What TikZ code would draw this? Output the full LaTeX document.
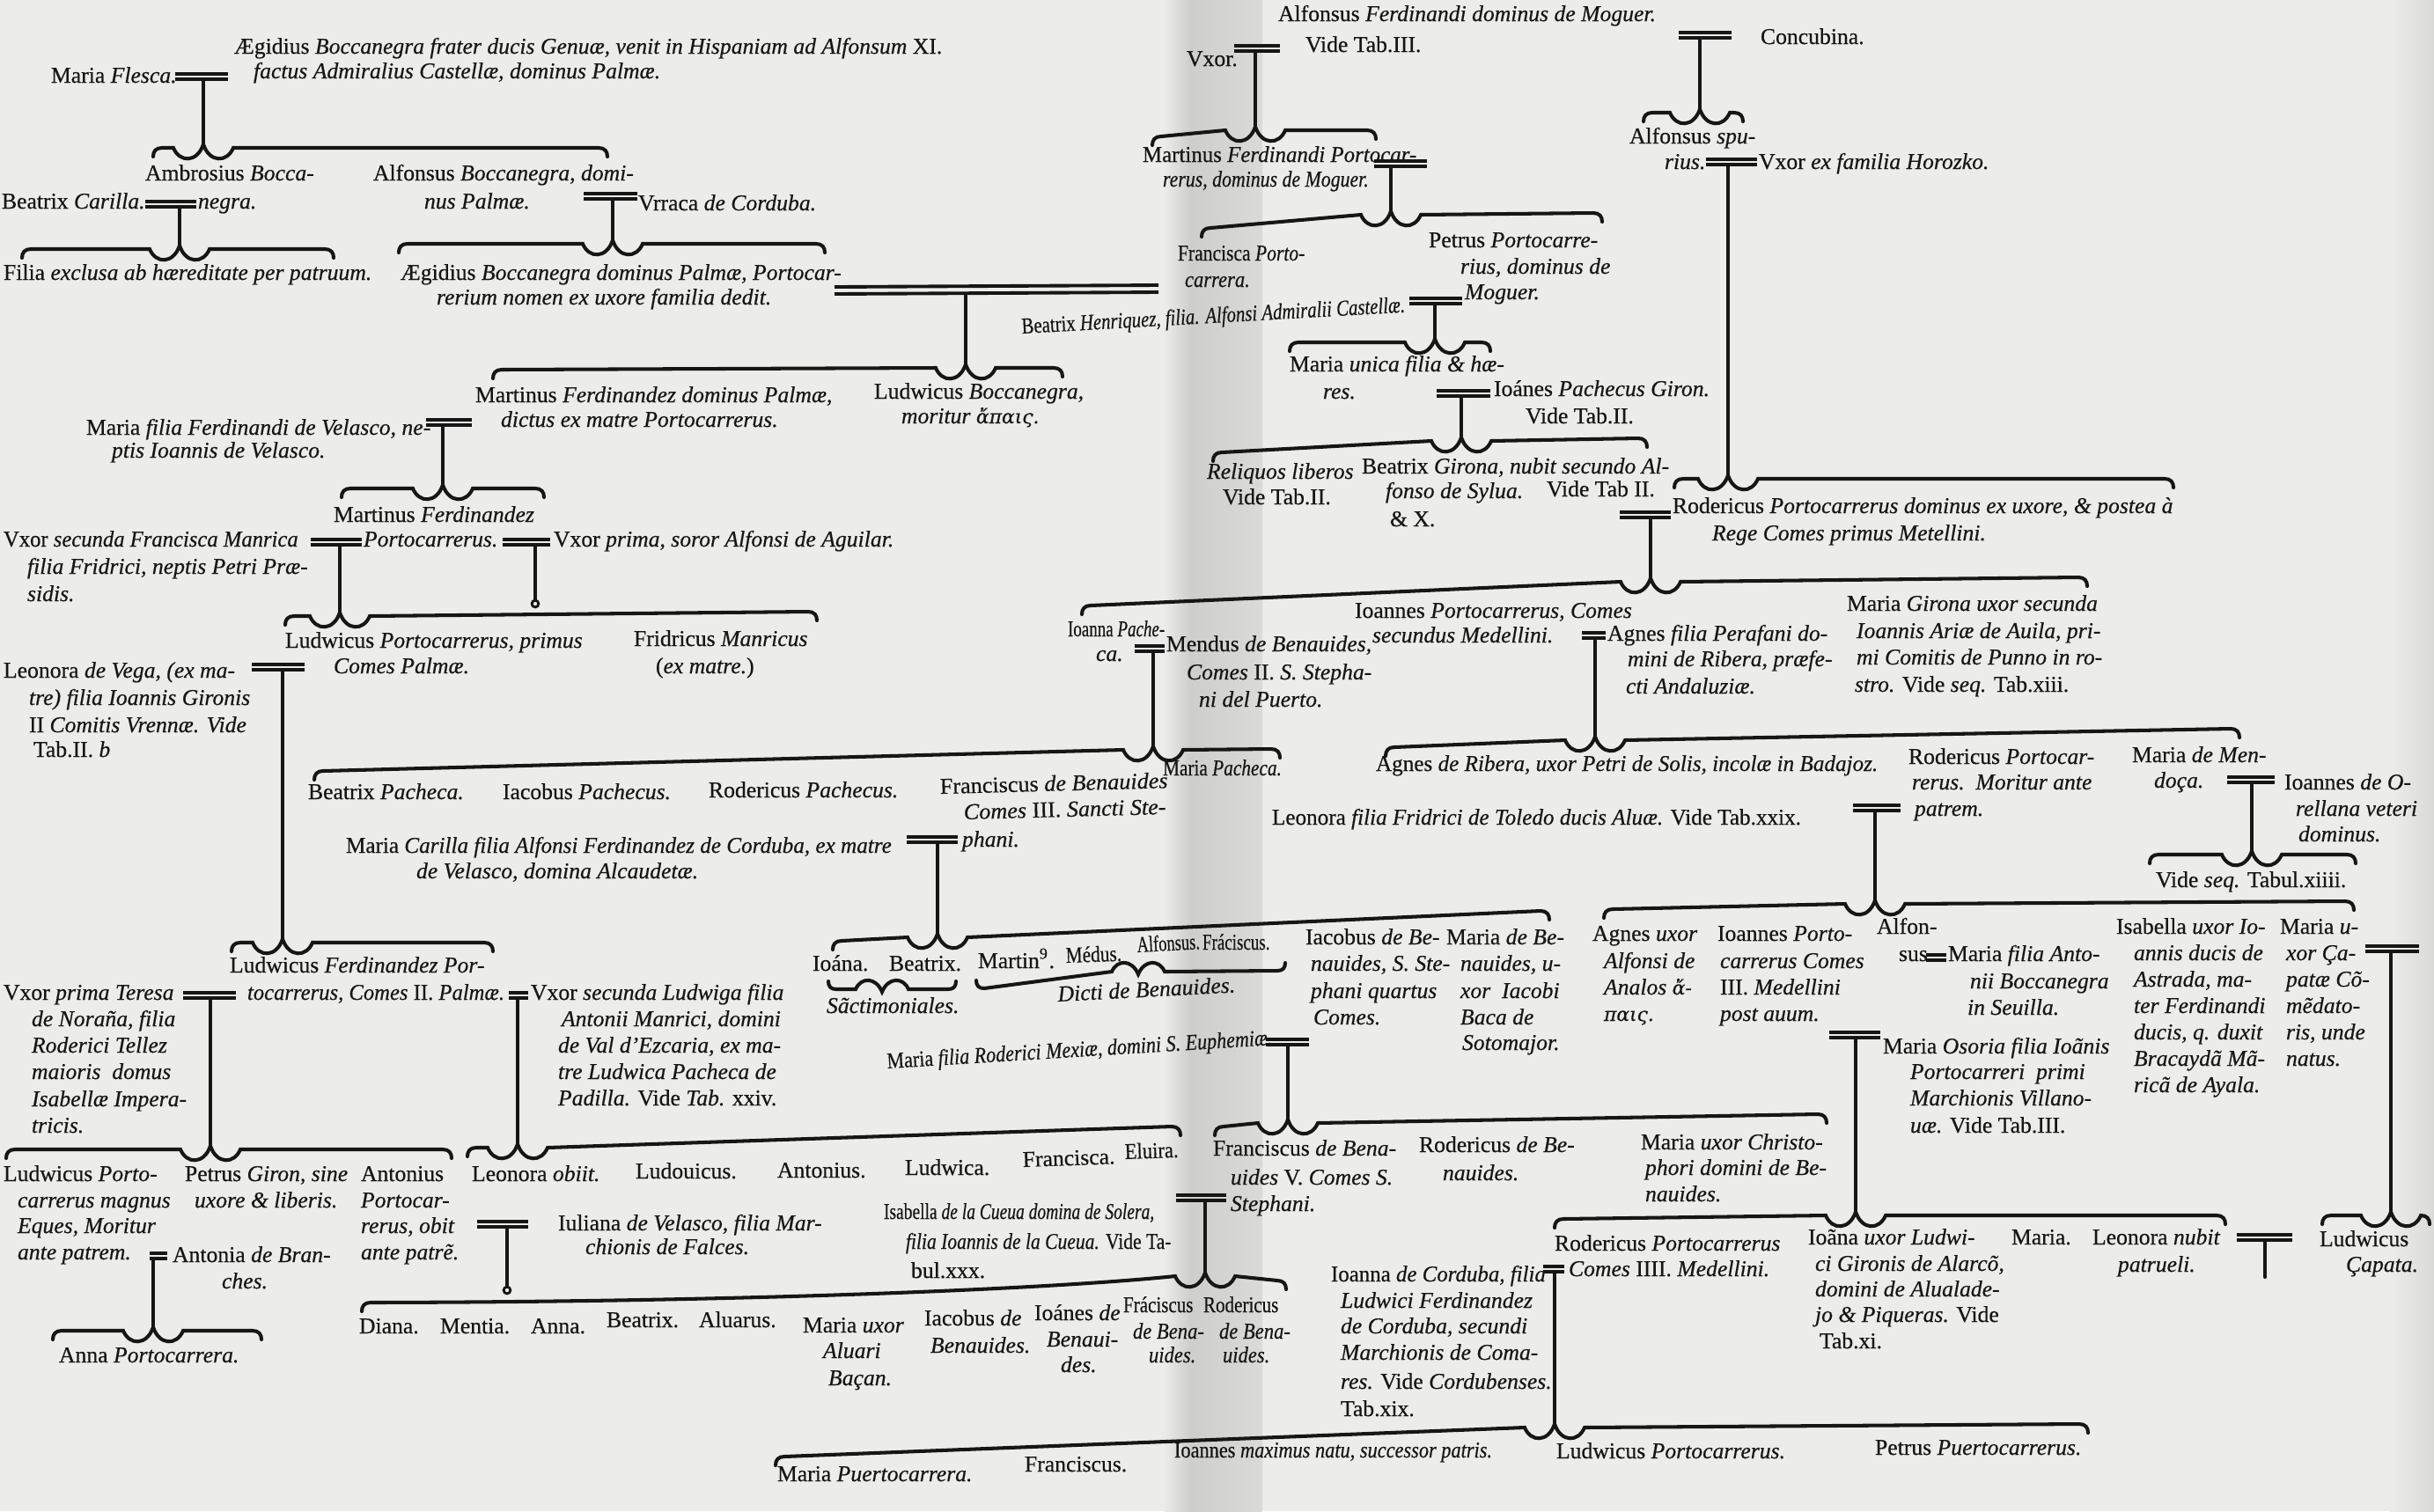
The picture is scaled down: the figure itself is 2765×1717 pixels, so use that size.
\documentclass[tikz,border=0pt]{standalone}
\usepackage{graphicx}
\usepackage{fontspec}
\setmainfont{Liberation Serif}[FakeBold=0.5]
\newfontfamily\grk{DejaVu Serif}[Scale=0.85,FakeBold=0.4]
\definecolor{paper}{RGB}{236,236,234}
\definecolor{gutd}{RGB}{206,206,204}
\definecolor{gutm}{RGB}{218,218,216}
\definecolor{ink}{RGB}{22,22,22}
\newcounter{tn}
\newcommand\ix[1]{\textit{#1}}
\newcommand\sx[2]{\scalebox{#1}[1]{#2}}
\newcommand\fsz{\fontsize{7.3pt}{8.7pt}\selectfont}
\newcommand\tx[4][]{\stepcounter{tn}\node[tl,#1] (t\arabic{tn}) at (#2,#3) {#4};}
\newcommand\mar[3]{\draw[mr] ({#1},{#3-3.3}) -- ({#2},{#3-3.3}); \draw[mr] ({#1},{#3+3.3}) -- ({#2},{#3+3.3});}
\newcommand\dsc[3]{\draw[br] ({#1},{#2}) -- ({#1},{#3});}
\newcommand\nring[2]{\draw[br,line width=0.8pt] ({#1},{#2}) circle[radius=1.1pt];}
% over-brace: x1 y1 xc yc x2 y2
\newcommand\obr[6]{\draw[br] ({#1},{#2+10}) .. controls ({#1},{#2+4}) and ({#1+3},{#2}) .. ({#1+10},{#2})
  -- ({#3-34},{#4}) .. controls ({#3-27},{#4+17}) and ({#3-7},{#4+17}) .. ({#3},{#4-4})
  .. controls ({#3+7},{#4+17}) and ({#3+27},{#4+17}) .. ({#3+34},{#4})
  -- ({#5-10},{#6}) .. controls ({#5-3},{#6}) and ({#5},{#6+4}) .. ({#5},{#6+10});}
% under-brace: x1 y1 xc yc x2 y2
\newcommand\ubr[6]{\draw[br] ({#1},{#2-9}) .. controls ({#1},{#2-3}) and ({#1+3},{#2}) .. ({#1+9},{#2})
  -- ({#3-30},{#4}) .. controls ({#3-24},{#4-14}) and ({#3-7},{#4-14}) .. ({#3},{#4+3})
  .. controls ({#3+7},{#4-14}) and ({#3+24},{#4-14}) .. ({#3+30},{#4})
  -- ({#5-9},{#6}) .. controls ({#5-3},{#6}) and ({#5},{#6-3}) .. ({#5},{#6-9});}
\tikzset{
  tl/.style={anchor=base west, inner sep=0pt, outer sep=0pt, font=\fsz, text=ink},
  br/.style={draw=ink, line width=1.15pt, line cap=round},
  mr/.style={draw=ink, line width=1.1pt},
}
\begin{document}
\begin{tikzpicture}[x=0.01cm,y=-0.01cm]
\useasboundingbox (0,0) rectangle (2765,1717);
\fill[paper] (0,0) rectangle (2765,1717);
\shade[left color=paper,right color=gutd] (1322,0) rectangle (1352,1717);
\shade[left color=gutd,right color=gutm] (1352,0) rectangle (1434,1717);
\shade[left color=paper,right color=gutm] (2715,0) rectangle (2765,1717);

% ================= LEFT PAGE =================
\tx{266}{61}{Ægidius \ix{Boccanegra frater ducis Genuæ, venit in Hispaniam ad Alfonsum} XI.}
\tx{288}{89}{\ix{factus Admiralius Castellæ, dominus Palmæ.}}
\tx{58}{94}{Maria \ix{Flesca.}}
\mar{199}{259}{87}
\dsc{231}{92}{164}
\obr{174}{168}{231}{168}{690}{168}
\tx{165}{205}{Ambrosius \ix{Bocca-}}
\tx{225}{237}{\ix{negra.}}
\tx{2}{237}{Beatrix \ix{Carilla.}}
\mar{165}{223}{232}
\dsc{204}{237}{279}
\obr{25}{283}{204}{283}{379}{283}
\tx{4}{318}{Filia \ix{exclusa ab hæreditate per patruum.}}
\tx{424}{205}{Alfonsus \ix{Boccanegra, domi-}}
\tx{482}{237}{\ix{nus Palmæ.}}
\tx{725}{239}{Vrraca \ix{de Corduba.}}
\mar{663}{724}{223}
\dsc{696}{227}{273}
\obr{453}{277}{696}{277}{937}{277}
\tx{455}{318}{Ægidius \ix{Boccanegra dominus Palmæ, Portocar-}}
\tx{496}{346}{\ix{rerium nomen ex uxore familia dedit.}}
\draw[mr] (948,326) -- (1316,324); \draw[mr] (948,334) -- (1316,332);
\dsc{1097}{336}{414}
\obr{560}{420}{1097}{418}{1207}{418}
\tx[rotate=3.2]{1161}{379}{\sx{.81}{Beatrix \ix{Henriquez, filia. Alfonsi Admiralii Castellæ.}}}
\tx{540}{457}{Martinus \ix{Ferdinandez dominus Palmæ,}}
\tx{569}{485}{\ix{dictus ex matre Portocarrerus.}}
\tx{993}{453}{Ludwicus \ix{Boccanegra,}}
\tx{1024}{481}{\ix{moritur} {\grk\itshape ἄπαις.}}
\tx{98}{494}{Maria \ix{filia Ferdinandi de Velasco, ne-}}
\tx{127}{520}{\ix{ptis Ioannis de Velasco.}}
\mar{484}{536}{480}
\dsc{503}{484}{551}
\obr{388}{555}{503}{555}{618}{555}
\tx{379}{593}{Martinus \ix{Ferdinandez}}
\tx{413}{621}{\ix{Portocarrerus.}}
\tx{4}{621}{\sx{.96}{Vxor \ix{secunda Francisca Manrica}}}
\tx{31}{652}{\ix{filia Fridrici, neptis Petri Præ-}}
\tx{31}{683}{\ix{sidis.}}
\mar{353}{411}{616}
\mar{571}{625}{616}
\tx{629}{621}{Vxor \ix{prima, soror Alfonsi de Aguilar.}}
\dsc{386}{620}{696}
\dsc{608}{620}{682}
\nring{608}{686}
\obr{324}{700}{386}{700}{928}{695}
\tx{324}{736}{Ludwicus \ix{Portocarrerus, primus}}
\tx{379}{765}{\ix{Comes Palmæ.}}
\tx{720}{734}{Fridricus \ix{Manricus}}
\tx{745}{765}{(\ix{ex matre.})}
\tx{4}{770}{Leonora \ix{de Vega, (ex ma-}}
\tx{33}{801}{\ix{tre) filia Ioannis Gironis}}
\tx{33}{832}{II \ix{Comitis Vrennæ. Vide}}
\tx{38}{860}{Tab.II. \ix{b}}
\mar{286}{346}{758}
\dsc{321}{762}{1067}
\obr{263}{1071}{321}{1071}{560}{1071}
\tx{261}{1105}{Ludwicus \ix{Ferdinandez Por-}}
\tx{281}{1136}{\sx{.96}{\ix{tocarrerus, Comes} II. \ix{Palmæ.}}}
\tx{4}{1136}{Vxor \ix{prima Teresa}}
\tx{36}{1166}{\ix{de Noraña, filia}}
\tx{36}{1196}{\ix{Roderici Tellez}}
\tx{36}{1226}{\ix{maioris\enspace domus}}
\tx{36}{1257}{\ix{Isabellæ Impera-}}
\tx{36}{1287}{\ix{tricis.}}
\mar{208}{268}{1131}
\mar{578}{600}{1131}
\tx{603}{1136}{Vxor \ix{secunda Ludwiga filia}}
\tx{638}{1166}{\ix{Antonii Manrici, domini}}
\tx{634}{1196}{\ix{de Val d'Ezcaria, ex ma-}}
\tx{634}{1226}{\ix{tre Ludwica Pacheca de}}
\tx{634}{1256}{\ix{Padilla.} Vide \ix{Tab.} xxiv.}
\dsc{239}{1134}{1302}
\obr{7}{1306}{239}{1306}{513}{1306}
\dsc{588}{1134}{1300}
\obr{531}{1304}{588}{1304}{1341}{1280}
\tx{4}{1342}{Ludwicus \ix{Porto-}}
\tx{20}{1372}{\ix{carrerus magnus}}
\tx{20}{1401}{\ix{Eques, Moritur}}
\tx{20}{1431}{\ix{ante patrem.}}
\mar{170}{190}{1427}
\tx{196}{1434}{Antonia \ix{de Bran-}}
\tx{252}{1464}{\ix{ches.}}
\dsc{174}{1431}{1508}
\obr{60}{1512}{174}{1512}{297}{1512}
\tx{67}{1548}{Anna \ix{Portocarrera.}}
\tx{210}{1342}{Petrus \ix{Giron, sine}}
\tx{221}{1372}{\ix{uxore \& liberis.}}
\tx{410}{1342}{Antonius}
\tx{410}{1372}{\ix{Portocar-}}
\tx{410}{1401}{\ix{rerus, obit}}
\tx{410}{1431}{\ix{ante patrẽ.}}
\tx{536}{1342}{Leonora \ix{obiit.}}
\tx{722}{1339}{Ludouicus.}
\tx{883}{1338}{Antonius.}
\tx{1028}{1335}{Ludwica.}
\tx[rotate=2]{1162}{1326}{Francisca.}
\tx[rotate=2]{1278}{1317}{\sx{.88}{Eluira.}}
\mar{542}{600}{1391}
\dsc{576}{1395}{1462}
\nring{576}{1466}
\tx{634}{1398}{Iuliana \ix{de Velasco, filia Mar-}}
\tx{665}{1425}{\ix{chionis de Falces.}}
\tx{1004}{1385}{\sx{.76}{Isabella \ix{de la Cueua domina de Solera,}}}
\tx{1029}{1419}{\sx{.84}{\ix{filia Ioannis de la Cueua.} Vide Ta-}}
\tx{1035}{1452}{bul.xxx.}
\mar{1336}{1393}{1361}
\dsc{1369}{1365}{1446}
\draw[br] (411,1490) .. controls (411,1484) and (414,1480) .. (421,1480)
  .. controls (900,1479) and (1220,1462) .. (1335,1450)
  .. controls (1342,1467) and (1362,1467) .. (1369,1446)
  .. controls (1376,1467) and (1396,1467) .. (1403,1450)
  -- (1451,1455) .. controls (1458,1455) and (1461,1459) .. (1461,1465);
\tx{408}{1515}{Diana.}
\tx{500}{1515}{Mentia.}
\tx{603}{1515}{Anna.}
\tx{689}{1508}{Beatrix.}
\tx{794}{1508}{Aluarus.}
\tx{912}{1514}{Maria \ix{uxor}}
\tx{935}{1543}{\ix{Aluari}}
\tx{941}{1574}{\ix{Baçan.}}
\tx{1050}{1506}{Iacobus \ix{de}}
\tx{1057}{1537}{\ix{Benauides.}}
\tx{1175}{1500}{Ioánes \ix{de}}
\tx{1189}{1530}{\ix{Benaui-}}
\tx{1205}{1559}{\ix{des.}}
\tx{1276}{1491}{\sx{.82}{Fráciscus}}
\tx{1287}{1521}{\sx{.88}{\ix{de Bena-}}}
\tx{1305}{1548}{\sx{.88}{\ix{uides.}}}
\tx{1367}{1491}{\sx{.82}{Rodericus}}
\tx{1385}{1521}{\sx{.88}{\ix{de Bena-}}}
\tx{1389}{1548}{\sx{.88}{\ix{uides.}}}

\tx{350}{908}{Beatrix \ix{Pacheca.}}
\tx{571}{908}{Iacobus \ix{Pachecus.}}
\tx{805}{906}{Rodericus \ix{Pachecus.}}
\tx[rotate=1.5]{1068}{902}{\sx{1.02}{Franciscus \ix{de Benauides}}}
\tx[rotate=1.5]{1095}{931}{\sx{1.02}{\ix{Comes} III. \ix{Sancti Ste-}}}
\tx{1093}{962}{\ix{phani.}}
\tx{1321}{881}{\sx{.83}{Maria \ix{Pacheca.}}}
\obr{357}{876}{1310}{852}{1454}{851}
\tx{1213}{723}{\sx{.74}{Ioanna \ix{Pache-}}}
\tx{1245}{751}{\ix{ca.}}
\mar{1289}{1323}{737}
\dsc{1310}{741}{848}
\tx{1325}{740}{Mendus \ix{de Benauides,}}
\tx{1348}{772}{\ix{Comes} II. \ix{S. Stepha-}}
\tx{1362}{803}{\ix{ni del Puerto.}}
\tx{393}{969}{\sx{.98}{Maria \ix{Carilla filia Alfonsi Ferdinandez de Corduba, ex matre}}}
\tx{473}{998}{\ix{de Velasco, domina Alcaudetæ.}}
\mar{1030}{1088}{954}
\dsc{1065}{958}{1061}
\obr{946}{1069}{1065}{1065}{1760}{1035}
\tx{923}{1103}{Ioána.}
\tx{1010}{1103}{Beatrix.}
\tx{1111}{1100}{Martin\textsuperscript{9}.}
\tx[rotate=2]{1211}{1094}{\sx{.83}{Médus.}}
\tx[rotate=3]{1292}{1082}{\sx{.72}{Alfonsus.}}
\tx{1366}{1079}{\sx{.74}{Fráciscus.}}
\ubr{941}{1124}{1002}{1124}{1086}{1124}
\tx{939}{1151}{\ix{Sãctimoniales.}}
\ubr{1109}{1123}{1293}{1104}{1460}{1103}
\tx[rotate=3]{1202}{1138}{\ix{Dicti de Benauides.}}
\tx{1483}{1073}{Iacobus \ix{de Be-}}
\tx{1489}{1103}{\ix{nauides, S. Ste-}}
\tx{1489}{1134}{\ix{phani quartus}}
\tx{1492}{1164}{\ix{Comes.}}
\tx{1643}{1073}{Maria \ix{de Be-}}
\tx{1659}{1103}{\ix{nauides, u-}}
\tx{1659}{1134}{\ix{xor\enspace Iacobi}}
\tx{1659}{1164}{\ix{Baca de}}
\tx{1661}{1193}{\ix{Sotomajor.}}
\tx[rotate=3.5]{1008}{1214}{\sx{.86}{Maria \ix{filia Roderici Mexiæ, domini S. Euphemiæ.}}}
\mar{1438}{1487}{1184}
\dsc{1463}{1188}{1272}
\obr{1380}{1280}{1463}{1276}{2075}{1266}
\tx{1378}{1313}{Franciscus \ix{de Bena-}}
\tx{1398}{1346}{\ix{uides} V. \ix{Comes S.}}
\tx{1398}{1376}{\ix{Stephani.}}
\tx{1612}{1309}{Rodericus \ix{de Be-}}
\tx{1639}{1341}{\ix{nauides.}}
\tx{1864}{1306}{Maria \ix{uxor Christo-}}
\tx{1869}{1335}{\ix{phori domini de Be-}}
\tx{1869}{1365}{\ix{nauides.}}

% ================= RIGHT PAGE =================
\tx{1452}{24}{Alfonsus \ix{Ferdinandi dominus de Moguer.}}
\tx{1483}{59}{Vide Tab.III.}
\tx{1348}{75}{Vxor.}
\mar{1402}{1454}{55}
\dsc{1426}{59}{144}
\obr{1309}{155}{1426}{148}{1563}{148}
\mar{1907}{1967}{40}
\tx{2000}{50}{Concubina.}
\dsc{1931}{44}{124}
\obr{1867}{128}{1931}{128}{1980}{128}
\tx{1298}{184}{\sx{.97}{Martinus \ix{Ferdinandi Portocar-}}}
\tx{1321}{212}{\sx{.85}{\ix{rerus, dominus de Moguer.}}}
\mar{1561}{1621}{186}
\dsc{1580}{190}{240}
\obr{1365}{259}{1580}{244}{1820}{242}
\tx{1338}{296}{\sx{.84}{Francisca \ix{Porto-}}}
\tx{1346}{326}{\sx{.88}{\ix{carrera.}}}
\tx{1623}{281}{Petrus \ix{Portocarre-}}
\tx{1659}{311}{\ix{rius, dominus de}}
\tx{1664}{340}{\ix{Moguer.}}
\mar{1601}{1661}{342}
\dsc{1630}{346}{385}
\obr{1465}{389}{1630}{389}{1693}{389}
\tx{1465}{422}{Maria \ix{unica filia \& hæ-}}
\tx{1503}{453}{\ix{res.}}
\mar{1632}{1693}{447}
\tx{1697}{450}{Ioánes \ix{Pachecus Giron.}}
\tx{1733}{481}{Vide Tab.II.}
\dsc{1660}{451}{497}
\obr{1378}{514}{1660}{501}{1871}{498}
\tx{1371}{544}{\ix{Reliquos liberos}}
\tx{1389}{573}{Vide Tab.II.}
\tx{1547}{538}{Beatrix \ix{Girona, nubit secundo Al-}}
\tx{1574}{566}{\ix{fonso de Sylua.}}
\tx{1579}{598}{\& X.}
\tx{1757}{564}{Vide Tab II.}
\tx{1851}{163}{Alfonsus \ix{spu-}}
\tx{1891}{192}{\ix{rius.}}
\mar{1938}{1996}{184}
\tx{1998}{192}{Vxor \ix{ex familia Horozko.}}
\dsc{1963}{188}{540}
\obr{1902}{544}{1963}{544}{2469}{544}
\mar{1840}{1898}{585}
\tx{1900}{583}{Rodericus \ix{Portocarrerus dominus ex uxore, \& postea à}}
\tx{1945}{614}{\ix{Rege Comes primus Metellini.}}
\dsc{1875}{589}{657}
\obr{1229}{688}{1875}{661}{2371}{656}
\tx{1539}{702}{Ioannes \ix{Portocarrerus, Comes}}
\tx{1559}{730}{\ix{secundus Medellini.}}
\mar{1797}{1824}{722}
\tx{1826}{728}{Agnes \ix{filia Perafani do-}}
\tx{1849}{757}{\ix{mini de Ribera, præfe-}}
\tx{1847}{788}{\ix{cti Andaluziæ.}}
\tx{2098}{694}{Maria \ix{Girona uxor secunda}}
\tx{2109}{725}{\ix{Ioannis Ariæ de Auila, pri-}}
\tx{2109}{755}{\ix{mi Comitis de Punno in ro-}}
\tx{2107}{786}{\ix{stro.} Vide \ix{seq.} Tab.xiii.}
\dsc{1812}{726}{837}
\obr{1574}{849}{1812}{841}{2544}{828}
\tx{1563}{876}{\sx{.98}{Agnes \ix{de Ribera, uxor Petri de Solis, incolæ in Badajoz.}}}
\tx{2168}{868}{Rodericus \ix{Portocar-}}
\tx{2172}{897}{\ix{rerus.\enspace Moritur ante}}
\tx{2175}{927}{\ix{patrem.}}
\tx{2422}{866}{Maria \ix{de Men-}}
\tx{2447}{895}{\ix{doça.}}
\mar{2530}{2584}{886}
\tx{2595}{897}{Ioannes \ix{de O-}}
\tx{2608}{927}{\ix{rellana veteri}}
\tx{2611}{956}{\ix{dominus.}}
\dsc{2558}{890}{967}
\obr{2442}{971}{2558}{971}{2676}{971}
\tx{2449}{1008}{Vide \ix{seq.} Tabul.xiiii.}
\tx{1445}{937}{\sx{.98}{Leonora \ix{filia Fridrici de Toledo ducis Aluæ.} Vide Tab.xxix.}}
\mar{2105}{2159}{918}
\dsc{2130}{922}{1023}
\obr{1822}{1033}{2130}{1027}{2674}{1024}
\tx{1809}{1069}{Agnes \ix{uxor}}
\tx{1822}{1100}{\ix{Alfonsi de}}
\tx{1822}{1130}{\ix{Analos} {\grk\itshape ἄ-}}
\tx{1822}{1160}{{\grk\itshape παις.}}
\tx{1951}{1069}{Ioannes \ix{Porto-}}
\tx{1954}{1100}{\ix{carrerus Comes}}
\tx{1954}{1130}{III. \ix{Medellini}}
\tx{1954}{1160}{\ix{post auum.}}
\tx{2132}{1061}{Alfon-}
\tx{2157}{1092}{sus.}
\mar{2188}{2211}{1088}
\tx{2213}{1092}{Maria \ix{filia Anto-}}
\tx{2238}{1123}{\ix{nii Boccanegra}}
\tx{2235}{1153}{\ix{in Seuilla.}}
\tx{2404}{1061}{Isabella \ix{uxor Io-}}
\tx{2424}{1091}{\ix{annis ducis de}}
\tx{2424}{1121}{\ix{Astrada, ma-}}
\tx{2424}{1151}{\ix{ter Ferdinandi}}
\tx{2424}{1181}{\ix{ducis, q. duxit}}
\tx{2424}{1211}{\ix{Bracaydã Mã-}}
\tx{2424}{1241}{\ix{ricã de Ayala.}}
\tx{2590}{1061}{Maria \ix{u-}}
\tx{2597}{1091}{\ix{xor Ça-}}
\tx{2597}{1121}{\ix{patæ Cõ-}}
\tx{2597}{1151}{\ix{mẽdato-}}
\tx{2597}{1181}{\ix{ris, unde}}
\tx{2597}{1211}{\ix{natus.}}
\mar{2687}{2748}{1078}
\dsc{2716}{1082}{1377}
\obr{2638}{1381}{2716}{1381}{2760}{1381}
\tx{2635}{1416}{Ludwicus}
\tx{2665}{1445}{\ix{Çapata.}}
\mar{2078}{2136}{1176}
\tx{2139}{1197}{Maria \ix{Osoria filia Ioãnis}}
\tx{2170}{1226}{\ix{Portocarreri\enspace primi}}
\tx{2170}{1256}{\ix{Marchionis Villano-}}
\tx{2170}{1287}{\ix{uæ.} Vide Tab.III.}
\dsc{2108}{1180}{1377}
\obr{1766}{1385}{2108}{1381}{2528}{1381}
\tx{1766}{1421}{Rodericus \ix{Portocarrerus}}
\tx{1782}{1450}{\ix{Comes} IIII. \ix{Medellini.}}
\tx{1512}{1456}{\sx{.97}{Ioanna \ix{de Corduba, filia}}}
\tx{1523}{1486}{\ix{Ludwici Ferdinandez}}
\tx{1523}{1515}{\ix{de Corduba, secundi}}
\tx{1523}{1545}{\ix{Marchionis de Coma-}}
\tx{1523}{1578}{\ix{res.} Vide \ix{Cordubenses.}}
\tx{1523}{1609}{Tab.xix.}
\mar{1753}{1777}{1442}
\dsc{1766}{1446}{1618}
\obr{881}{1655}{1766}{1622}{2372}{1618}
\tx{2054}{1414}{Ioãna \ix{uxor Ludwi-}}
\tx{2062}{1444}{\ix{ci Gironis de Alarcõ,}}
\tx{2062}{1473}{\ix{domini de Alualade-}}
\tx{2062}{1502}{\ix{jo \& Piqueras.} Vide}
\tx{2067}{1532}{Tab.xi.}
\tx{2285}{1414}{Maria.}
\tx{2377}{1414}{Leonora \ix{nubit}}
\tx{2406}{1445}{\ix{patrueli.}}
\mar{2541}{2604}{1406}
\dsc{2573}{1410}{1451}
\tx{883}{1683}{Maria \ix{Puertocarrera.}}
\tx{1164}{1672}{Franciscus.}
\tx{1334}{1656}{\sx{.87}{Ioannes \ix{maximus natu, successor patris.}}}
\tx{1768}{1657}{Ludwicus \ix{Portocarrerus.}}
\tx{2130}{1653}{Petrus \ix{Puertocarrerus.}}
\end{tikzpicture}
\end{document}
